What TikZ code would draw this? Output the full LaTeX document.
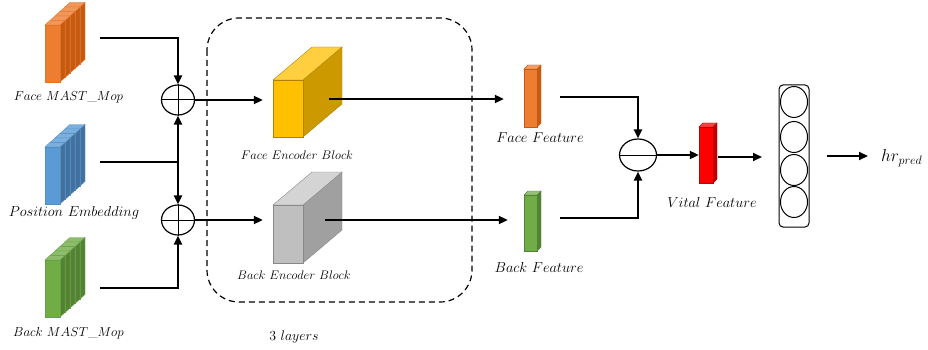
\RequirePackage{fix-cm}
\documentclass[tikz,border=0pt]{standalone}
\usetikzlibrary{arrows.meta,shapes.geometric,calc}
\definecolor{orA}{HTML}{ED7D31}\definecolor{orB}{HTML}{C55A11}
\definecolor{blA}{HTML}{5B9BD5}\definecolor{blB}{HTML}{41719C}
\definecolor{grA}{HTML}{70AD47}\definecolor{grB}{HTML}{548235}
\definecolor{yeA}{HTML}{FFC000}\definecolor{yeB}{HTML}{CC9A00}\definecolor{yeC}{HTML}{FFCF40}
\definecolor{gyA}{HTML}{BFBFBF}\definecolor{gyB}{HTML}{A0A0A0}\definecolor{gyC}{HTML}{D4D4D4}
\definecolor{rdA}{HTML}{FF0000}\definecolor{rdB}{HTML}{C00000}
\newcommand\mystack[5]{%
  \foreach \i in {4,...,0}{
    \pgfmathsetmacro\dx{#1+5*\i}\pgfmathsetmacro\dy{#2-4.5*\i}
    \filldraw[fill=#4,draw=#3!70!#4,line width=0.4pt] (\dx+15,\dy) -- ++(5,-4.5) -- ++(0,57) -- ++(-5,4.5) -- cycle;
    \filldraw[fill=#3!80!white,draw=#3!70!#4,line width=0.4pt] (\dx,\dy) -- ++(5,-4.5) -- ++(15,0) -- ++(-5,4.5) -- cycle;
    \filldraw[fill=#3,draw=#3!70!#4,line width=0.4pt] (\dx,\dy) rectangle ++(15,57);
  }
  \node[inner sep=0,minimum width=15,minimum height=57] (#5) at (#1+7.5,#2+28.5) {};
}
\newcommand\mycuboid[8]{% x y w h top side front name
  \filldraw[fill=#6,draw=#6!85!black,line width=0.4pt] (#1+#3,#2) -- ++(39,-33) -- ++(0,#4) -- ++(-39,33) -- cycle;
  \filldraw[fill=#5,draw=#6!85!black,line width=0.4pt] (#1,#2) -- ++(39,-33) -- ++(#3,0) -- ++(-39,33) -- cycle;
  \node[fill=#7,draw=#6!85!black,line width=0.4pt,inner sep=0,minimum width=#3,minimum height=#4] (#8) at (#1+#3/2,#2+#4/2) {};
}
\newcommand\mybar[7]{% x y w h front side name
  \filldraw[fill=#6,draw=#6,line width=0.4pt] (#1+#3,#2) -- ++(4,-4) -- ++(0,#4) -- ++(-4,4) -- cycle;
  \filldraw[fill=#5!75!white,draw=#6,line width=0.4pt] (#1,#2) -- ++(4,-4) -- ++(#3,0) -- ++(-4,4) -- cycle;
  \node[fill=#5,draw=#6,line width=0.4pt,inner sep=0,minimum width=#3,minimum height=#4] (#7) at (#1+#3/2,#2+#4/2) {};
}
\begin{document}
\begin{tikzpicture}[x=1pt,y=-1pt,
  conn/.style={line width=2pt},
  arr/.style={conn,-{Triangle[length=9pt,width=8pt]}},
  op/.style={draw,ellipse,line width=1.2pt,minimum width=33pt,minimum height=30pt,inner sep=0pt},
  lab/.style={font=\fontsize{14.4}{16}\selectfont,inner sep=0pt},
  caplab/.style={font=\fontsize{13}{15}\selectfont,inner sep=0pt},
  smalllab/.style={font=\fontsize{12.4}{14}\selectfont,inner sep=0pt}]
\useasboundingbox (0,0) rectangle (928,350);
\fill[white] (0,0) rectangle (928,350);

% input stacks
\mystack{45}{25}{orA}{orB}{facemap}
\mystack{45}{147}{blA}{blB}{posemb}
\mystack{45}{260}{grA}{grB}{backmap}
\node[caplab] (facemaplab) at (68.5,97) {$Face\ MAST\_Mop$};
\node[lab] (posemblab) at (74,213) {$Position\ Embedding$};
\node[caplab] (backmaplab) at (68.5,333) {$Back\ MAST\_Mop$};

% sum operators
\node[op] (plusA) at (178,100) {};
\node[op] (plusB) at (178,220) {};
\draw[line width=1pt] (plusA.north) -- (plusA.south) (plusA.west) -- (plusA.east);
\draw[line width=1pt] (plusB.north) -- (plusB.south) (plusB.west) -- (plusB.east);

\coordinate (faceout) at (100,38);
\coordinate (posout) at (100,162);
\coordinate (backout) at (100,288);
\coordinate (posj) at (178,162);
\draw[arr] (faceout) -| (plusA.north);
\draw[conn] (posout) -- (posj);
\draw[arr] (posj) -- (plusA.south);
\draw[arr] (posj) -- (plusB.north);
\draw[arr] (backout) -| (plusB.south);

% layers box
\draw[dashed,dash pattern=on 6pt off 4pt,line width=1.2pt,rounded corners=32pt] (207,18) rectangle (472,302);
\node[lab,font=\fontsize{13.9}{16}\selectfont] (layers) at (294,337) {$3\ layers$};

% encoders
\mycuboid{273}{80}{30}{57}{yeC}{yeB}{yeA}{faceenc}
\mycuboid{273}{205}{30}{58}{gyC}{gyB}{gyA}{backenc}
\node[smalllab] (faceenclab) at (297,155) {$Face\ Encoder\ Block$};
\node[smalllab] (backenclab) at (294,275) {$Back\ Encoder\ Block$};
\draw[arr] (plusA.east) -- ($(faceenc.west |- plusA.east)+(-10,0)$);
\draw[arr] (plusB.east) -- ($(backenc.west |- plusB.east)+(-10,0)$);

% features
\mybar{524}{69}{13}{58}{orA}{orB}{facefeat}
\mybar{524}{195}{13}{56}{grA}{grB}{backfeat}
\node[lab] (facefeatlab) at (540,138) {$Face\ Feature$};
\node[lab] (backfeatlab) at (539,267) {$Back\ Feature$};
\coordinate (faceencout) at (329,99);
\coordinate (backencout) at (325,220);
\draw[arr] (faceencout) -- ($(facefeat.west |- faceencout)+(-20,0)$);
\draw[arr] (backencout) -- ($(backfeat.west |- backencout)+(-16,0)$);

% difference
\node[op,minimum width=37pt,minimum height=32pt] (minus) at (638,155) {};
\draw[line width=1pt] (minus.west) -- (minus.east);
\coordinate (ffout) at (560,97);
\coordinate (bfout) at (560,218);
\draw[arr] (ffout) -| (minus.north);
\draw[arr] (bfout) -| (minus.south);

% vital feature
\mybar{699}{127}{14}{56}{rdA}{rdB}{vital}
\node[lab] (vitallab) at (712,202) {$Vital\ Feature$};
\draw[arr] (minus.east) -- (vital.west |- minus.east);
\coordinate (vitalout) at (718,157);
\coordinate (fcin) at (762,157);
\draw[arr] (vitalout) -- (fcin);

% FC layer
\node[draw,line width=1pt,rounded corners=4pt,minimum width=30pt,minimum height=142pt,inner sep=0pt] (fc) at (794,156) {};
\foreach \yy/\nm in {102/a,137/b,170/c,202/d}
  \node[draw,ellipse,line width=1pt,minimum width=27pt,minimum height=31pt,inner sep=0pt] (fc\nm) at (794,\yy) {};
\coordinate (fcout) at (827,156);
\coordinate (hrin) at (868,156);
\node[lab,anchor=west,font=\fontsize{17.3}{19}\selectfont] (hr) at (881,158) {$hr_{pred}$};
\draw[arr] (fcout) -- (hrin);
\end{tikzpicture}
\end{document}
